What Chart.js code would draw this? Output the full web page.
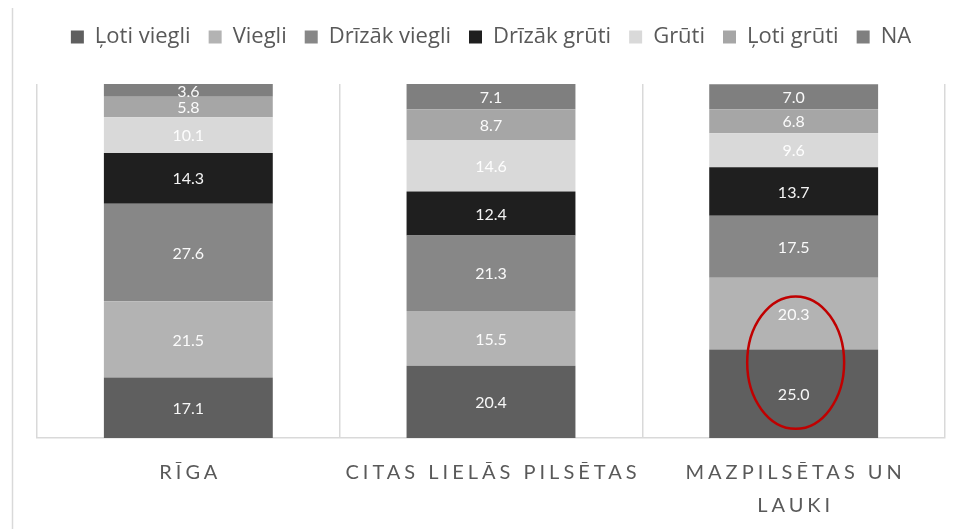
<!DOCTYPE html>
<html><head><meta charset="utf-8">
<script src="https://cdn.jsdelivr.net/npm/chart.js@4/dist/chart.umd.min.js"></script>
<style>html,body{margin:0;padding:0;background:#fff}#wrap{width:958px;height:529px}</style>
</head><body><div id="wrap"><canvas id="c" width="958" height="529"></canvas></div>
<script>
const categories = [["RĪGA"], ["CITAS LIELĀS PILSĒTAS"], ["MAZPILSĒTAS UN", "LAUKI"]];
const seriesNames = ["Ļoti viegli", "Viegli", "Drīzāk viegli", "Drīzāk grūti", "Grūti", "Ļoti grūti", "NA"];
const lotiViegli = [17.1, 20.4, 25.0];
const viegli = [21.5, 15.5, 20.3];
const drizakViegli = [27.6, 21.3, 17.5];
const drizakGruti = [14.3, 12.4, 13.7];
const gruti = [10.1, 14.6, 9.6];
const lotiGruti = [5.8, 8.7, 6.8];
const na = [3.6, 7.1, 7.0];
const seriesColors = ["#5f5f5f", "#b3b3b3", "#878787", "#1f1f1f", "#d9d9d9", "#a6a6a6", "#7f7f7f"];
const seriesValues = [lotiViegli, viegli, drizakViegli, drizakGruti, gruti, lotiGruti, na];
const highlight = {category: 2, centerValue: 21.3, halfSpan: 18.7};

const FONT = "Lato, 'Open Sans', sans-serif";

const legendMargin = {
  id: 'legendMargin',
  beforeInit(chart) {
    const fit = chart.legend.fit;
    chart.legend.fit = function () { fit.call(this); this.height += 26; };
  }
};

const labelPlugin = {
  id: 'labels',
  afterDatasetsDraw(chart) {
    const ctx = chart.ctx;
    ctx.save();
    ctx.font = "16px " + FONT;
    ctx.fillStyle = "rgba(255,255,255,0.95)";
    ctx.textAlign = "center";
    ctx.textBaseline = "middle";
    chart.data.datasets.forEach((ds, di) => {
      chart.getDatasetMeta(di).data.forEach((bar, i) => {
        const y = (bar.y + bar.base) / 2;
        ctx.fillText(ds.data[i].toFixed(1), bar.x, y + 1);
      });
    });
    const ys = chart.scales.y;
    const bar = chart.getDatasetMeta(0).data[highlight.category];
    const cx = bar.x + 2;
    const cy = ys.getPixelForValue(highlight.centerValue);
    const ry = Math.abs(ys.getPixelForValue(highlight.centerValue + highlight.halfSpan) - cy);
    const rx = bar.width * 0.287;
    ctx.beginPath();
    ctx.ellipse(cx, cy, rx, ry, 0, 0, Math.PI * 2);
    ctx.strokeStyle = "#c00000";
    ctx.lineWidth = 2.5;
    ctx.stroke();
    ctx.restore();
  },
  afterDraw(chart) {
    const ctx = chart.ctx;
    const xs = chart.scales.x;
    ctx.save();
    ctx.strokeStyle = "#d9d9d9";
    ctx.lineWidth = 1.5;
    ctx.beginPath();
    ctx.moveTo(12.5, 8);
    ctx.lineTo(12.5, 529);
    ctx.stroke();
    ctx.font = "20px " + FONT;
    ctx.fillStyle = "#595959";
    ctx.textAlign = "center";
    ctx.textBaseline = "middle";
    ctx.letterSpacing = "4px";
    categories.forEach((lines, i) => {
      const x = xs.getPixelForValue(i);
      lines.forEach((t, li) => {
        ctx.fillText(t, x + 2, xs.bottom + 35 + li * 33);
      });
    });
    ctx.restore();
  }
};

new Chart(document.getElementById('c'), {
  type: 'bar',
  data: {
    labels: categories.map(l => l.join(' ')),
    datasets: seriesNames.map((n, i) => ({
      label: n,
      data: seriesValues[i],
      backgroundColor: seriesColors[i],
      borderWidth: 0,
      categoryPercentage: 1,
      barPercentage: 0.558
    }))
  },
  options: {
    responsive: false,
    animation: false,
    devicePixelRatio: 1,
    layout: {padding: {left: 37, right: 13, top: 8, bottom: 91}},
    plugins: {
      tooltip: {enabled: false},
      legend: {
        position: 'top',
        labels: {
          boxWidth: 13, boxHeight: 13, padding: 18,
          color: "#595959",
          font: {family: "'Open Sans', Lato, sans-serif", size: 22}
        }
      }
    },
    scales: {
      x: {
        stacked: true,
        offset: true,
        grid: {display: true, offset: true, color: "#d9d9d9", lineWidth: 1.5, drawTicks: false},
        border: {display: true, color: "#d9d9d9", width: 1.5},
        ticks: {display: false}
      },
      y: {
        stacked: true,
        display: false,
        min: 0, max: 100
      }
    }
  },
  plugins: [legendMargin, labelPlugin]
});
</script></body></html>
